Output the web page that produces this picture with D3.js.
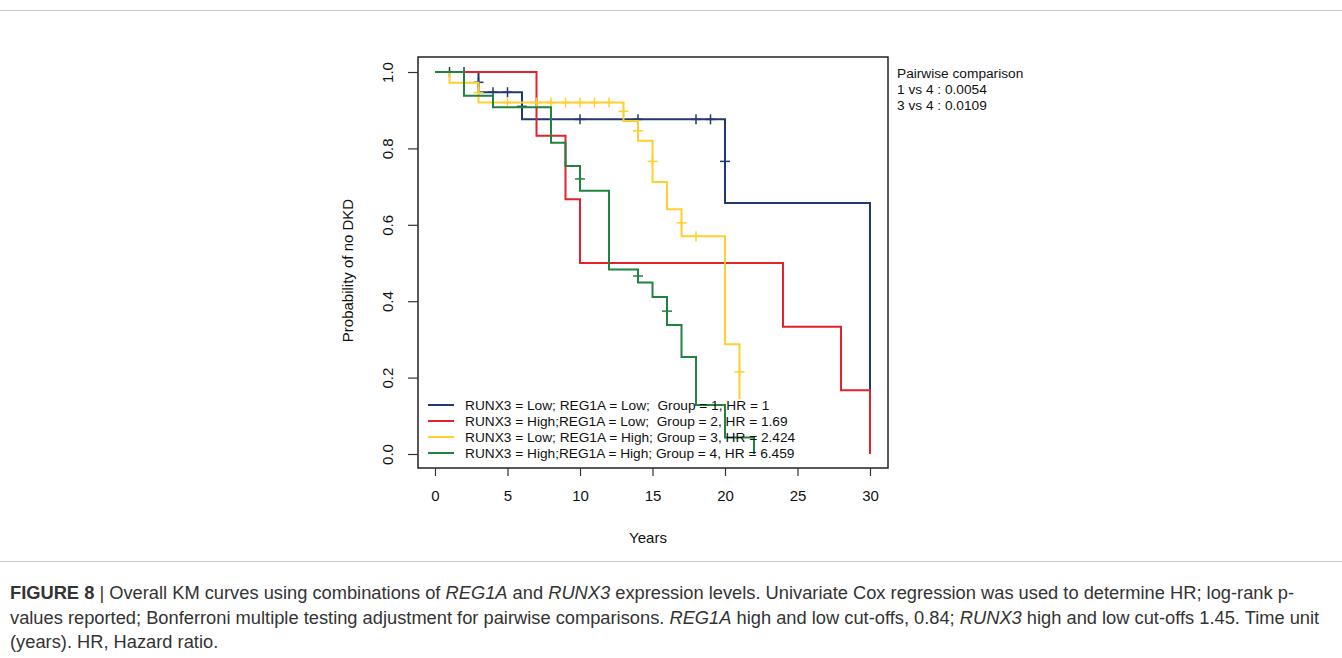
<!DOCTYPE html>
<html>
<head>
<meta charset="utf-8">
<script src="https://cdn.jsdelivr.net/npm/d3@7"></script>
<style>
  body { margin: 0; background: #fff; }
  svg text { font-family: "Liberation Sans", Arial, sans-serif; }
</style>
</head>
<body>
<div id="chart"></div>
<script>
// KM step points (time, survival) for each group
const blueT = [0, 3, 6, 20, 30];
const blueS = [1, 0.947, 0.876, 0.657, 0];
const blueCensT = [1, 2, 3, 4, 5, 6, 10, 14, 18, 19, 20];
const blueCensS = [1, 1, 0.973, 0.947, 0.947, 0.91, 0.876, 0.876, 0.876, 0.876, 0.766];

const redT = [0, 7, 9, 10, 24, 28, 30];
const redS = [1, 0.833, 0.667, 0.5, 0.333, 0.167, 0];
const redCensT = [];
const redCensS = [];

const yellowT = [0, 1, 3, 13, 14, 15, 16, 17, 20, 21];
const yellowS = [1, 0.972, 0.92, 0.872, 0.82, 0.712, 0.641, 0.57, 0.287, 0.143];
const yellowCensT = [3, 5, 7, 8, 9, 10, 11, 12, 13, 14, 15, 17, 18, 21];
const yellowCensS = [0.946, 0.92, 0.92, 0.92, 0.92, 0.92, 0.92, 0.92, 0.897, 0.846, 0.766, 0.605, 0.57, 0.215];

const greenT = [0, 2, 4, 8, 9, 10, 12, 14, 15, 16, 17, 18, 20, 22];
const greenS = [1, 0.938, 0.908, 0.815, 0.754, 0.689, 0.483, 0.449, 0.411, 0.338, 0.254, 0.128, 0.043, 0];
const greenCensT = [10, 14, 16];
const greenCensS = [0.72, 0.466, 0.374];

const legendLabels = [
  "RUNX3 = Low; REG1A = Low;  Group = 1, HR = 1",
  "RUNX3 = High;REG1A = Low;  Group = 2, HR = 1.69",
  "RUNX3 = Low; REG1A = High; Group = 3, HR = 2.424",
  "RUNX3 = High;REG1A = High; Group = 4, HR = 6.459"
];
const colors = ["#22396f", "#e3222b", "#fdd02f", "#1f8440"];
const xTicks = [0, 5, 10, 15, 20, 25, 30];
const yTicks = [0, 0.2, 0.4, 0.6, 0.8, 1.0];
const pairwise = ["Pairwise comparison", "1 vs 4 : 0.0054", "3 vs 4 : 0.0109"];

const groups = [
  {t: blueT, s: blueS, ct: blueCensT, cs: blueCensS},
  {t: redT, s: redS, ct: redCensT, cs: redCensS},
  {t: yellowT, s: yellowS, ct: yellowCensT, cs: yellowCensS},
  {t: greenT, s: greenS, ct: greenCensT, cs: greenCensS}
];

const W = 1342, H = 658;
const box = {left: 418, right: 888, top: 57, bottom: 468};

const svg = d3.select("#chart").append("svg")
  .attr("width", W)
  .attr("height", H);

// figure rules
svg.append("line").attr("x1", 0).attr("x2", W).attr("y1", 10.5).attr("y2", 10.5)
  .attr("stroke", "#c8c8c8").attr("stroke-width", 1);
svg.append("line").attr("x1", 0).attr("x2", W).attr("y1", 561.5).attr("y2", 561.5)
  .attr("stroke", "#c8c8c8").attr("stroke-width", 1);

const x = d3.scaleLinear().domain([0, 30]).range([435, 870]);
const y = d3.scaleLinear().domain([0, 1]).range([454, 72]);

// plot box
svg.append("rect")
  .attr("x", box.left).attr("y", box.top)
  .attr("width", box.right - box.left).attr("height", box.bottom - box.top)
  .attr("fill", "none").attr("stroke", "#222").attr("stroke-width", 1.5);

// x axis
const xAxis = svg.append("g")
  .attr("transform", `translate(0, ${box.bottom})`)
  .call(d3.axisBottom(x).tickValues(xTicks).tickSize(8).tickPadding(14).tickFormat(d3.format("d")));
xAxis.select(".domain").remove();
xAxis.selectAll("line").attr("stroke", "#333").attr("stroke-width", 1.2);
xAxis.selectAll("text").attr("font-size", 15).attr("fill", "#111")
  .style("font-family", "Liberation Sans, Arial, sans-serif");

// y axis
const yAxis = svg.append("g")
  .attr("transform", `translate(${box.left}, 0)`)
  .call(d3.axisLeft(y).tickValues(yTicks).tickSize(10).tickFormat(d3.format(".1f")));
yAxis.select(".domain").remove();
yAxis.selectAll("line").attr("stroke", "#333").attr("stroke-width", 1.2);
yAxis.selectAll("text")
  .attr("font-size", 15).attr("fill", "#111")
  .style("font-family", "Liberation Sans, Arial, sans-serif")
  .attr("text-anchor", "middle")
  .attr("x", null)
  .attr("transform", "translate(-30, 0) rotate(-90)")
  .attr("dy", "0.35em");

// axis titles
svg.append("text")
  .attr("x", 648).attr("y", 543)
  .attr("text-anchor", "middle").attr("font-size", 15).attr("fill", "#111")
  .text("Years");
svg.append("text")
  .attr("transform", `translate(353, ${(box.top + box.bottom) / 2 + 8}) rotate(-90)`)
  .attr("text-anchor", "middle").attr("font-size", 15).attr("fill", "#111")
  .text("Probability of no DKD");

// curves
const line = d3.line()
  .x(d => x(d[0]))
  .y(d => y(d[1]))
  .curve(d3.curveStepAfter);

groups.forEach((g, i) => {
  const pts = g.t.map((t, k) => [t, g.s[k]]);
  svg.append("path")
    .datum(pts)
    .attr("fill", "none")
    .attr("stroke", colors[i])
    .attr("stroke-width", 2)
    .attr("d", line);

  const cens = g.ct.map((t, k) => [t, g.cs[k]]);
  const marks = svg.append("g").attr("stroke", colors[i]).attr("stroke-width", 1.5);
  marks.selectAll("line.h")
    .data(cens)
    .join("line")
    .attr("class", "h")
    .attr("x1", d => x(d[0]) - 5).attr("x2", d => x(d[0]) + 5)
    .attr("y1", d => y(d[1])).attr("y2", d => y(d[1]));
  marks.selectAll("line.v")
    .data(cens)
    .join("line")
    .attr("class", "v")
    .attr("x1", d => x(d[0])).attr("x2", d => x(d[0]))
    .attr("y1", d => y(d[1]) - 5).attr("y2", d => y(d[1]) + 5);
});

// legend
const legend = svg.append("g").attr("transform", "translate(428, 405)");
legendLabels.forEach((lab, i) => {
  legend.append("line")
    .attr("x1", 0).attr("x2", 26)
    .attr("y1", i * 16).attr("y2", i * 16)
    .attr("stroke", colors[i]).attr("stroke-width", 2);
  legend.append("text")
    .attr("x", 37).attr("y", i * 16)
    .attr("dy", "0.35em")
    .attr("font-size", 13.7).attr("fill", "#111")
    .style("white-space", "pre")
    .text(lab);
});

// pairwise comparison text
pairwise.forEach((p, i) => {
  svg.append("text")
    .attr("x", 897).attr("y", 73 + i * 16)
    .attr("dy", "0.35em")
    .attr("font-size", 13.7).attr("fill", "#111")
    .text(p);
});

// caption
const cap = svg.append("g").attr("fill", "#333").attr("font-size", 18.3);
const l1 = cap.append("text").attr("x", 10).attr("y", 599);
l1.append("tspan").attr("font-weight", "bold").text("FIGURE 8");
l1.append("tspan").text(" | Overall KM curves using combinations of ");
l1.append("tspan").attr("font-style", "italic").text("REG1A");
l1.append("tspan").text(" and ");
l1.append("tspan").attr("font-style", "italic").text("RUNX3");
l1.append("tspan").text(" expression levels. Univariate Cox regression was used to determine HR; log-rank p-");
const l2 = cap.append("text").attr("x", 10).attr("y", 624);
l2.append("tspan").text("values reported; Bonferroni multiple testing adjustment for pairwise comparisons. ");
l2.append("tspan").attr("font-style", "italic").text("REG1A");
l2.append("tspan").text(" high and low cut-offs, 0.84; ");
l2.append("tspan").attr("font-style", "italic").text("RUNX3");
l2.append("tspan").text(" high and low cut-offs 1.45. Time unit");
cap.append("text").attr("x", 10).attr("y", 648).text("(years). HR, Hazard ratio.");
</script>
</body>
</html>
